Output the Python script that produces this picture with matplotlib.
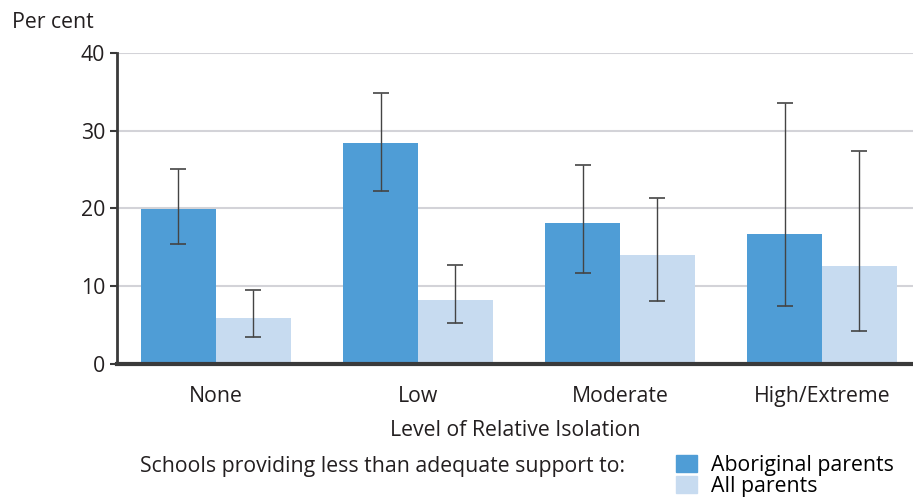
import numpy as np
import matplotlib.pyplot as plt
from matplotlib.patches import Patch

plt.rcParams['font.family'] = ['Open Sans', 'DejaVu Sans']

# data
categories = ["None", "Low", "Moderate", "High/Extreme"]
aboriginal = [19.9, 28.4, 18.1, 16.7]
aboriginal_lo = [15.4, 22.3, 11.7, 7.5]
aboriginal_hi = [25.1, 34.9, 25.6, 33.5]
all_parents = [5.9, 8.2, 14.0, 12.6]
all_lo = [3.5, 5.3, 8.1, 4.3]
all_hi = [9.5, 12.7, 21.3, 27.4]

dark_blue = "#4f9dd6"
light_blue = "#c7dbf0"
text_col = "#231f20"
fs = 15.3

fig = plt.figure(figsize=(9.13, 4.99), dpi=100)
ax = fig.add_axes([0.128, 0.2705, 0.872, 0.6235])

x = np.arange(len(categories))
w = 0.37
ab = np.array(aboriginal)
al = np.array(all_parents)
ax.bar(x - w / 2, ab, w, color=dark_blue, zorder=2)
ax.bar(x + w / 2, al, w, color=light_blue, zorder=2)
ax.errorbar(x - w / 2, ab, yerr=[ab - np.array(aboriginal_lo), np.array(aboriginal_hi) - ab],
            fmt="none", ecolor="#444444", elinewidth=1, capsize=6, capthick=1.2, zorder=3)
ax.errorbar(x + w / 2, al, yerr=[al - np.array(all_lo), np.array(all_hi) - al],
            fmt="none", ecolor="#444444", elinewidth=1, capsize=6, capthick=1.2, zorder=3)

ax.set_ylim(0, 40)
ax.set_xlim(-0.49, 3.45)
ax.set_yticks([0, 10, 20, 30, 40])
ax.yaxis.grid(True, color="#d3d3d8", linewidth=1.5, zorder=0)
ax.set_axisbelow(True)
ax.set_xticks(x)
ax.set_xticklabels(categories)
ax.tick_params(axis="x", length=0, pad=16, labelsize=fs, colors=text_col)
ax.tick_params(axis="y", length=5, width=1.5, color="#3a3a3a", labelsize=fs, labelcolor=text_col)
for s in ["top", "right"]:
    ax.spines[s].set_visible(False)
ax.spines["left"].set_linewidth(2)
ax.spines["left"].set_color("#3a3a3a")
ax.spines["bottom"].set_linewidth(3)
ax.spines["bottom"].set_color("#3a3a3a")

ax.set_xlabel("Level of Relative Isolation", fontsize=fs, color=text_col, labelpad=9)
fig.text(0.013, 0.955, "Per cent", fontsize=fs, color=text_col, va="center")

fig.text(0.153, 0.066, "Schools providing less than adequate support to:",
         fontsize=fs, color=text_col, va="center")
handles = [Patch(color=dark_blue, label="Aboriginal parents"),
           Patch(color=light_blue, label="All parents")]
fig.legend(handles=handles, loc="center left", bbox_to_anchor=(0.740, 0.046),
           frameon=False, fontsize=fs, handlelength=1.0, handleheight=0.85,
           handletextpad=0.65, labelspacing=0.0, borderpad=0, borderaxespad=0)

fig.savefig("out.png", dpi=100)
